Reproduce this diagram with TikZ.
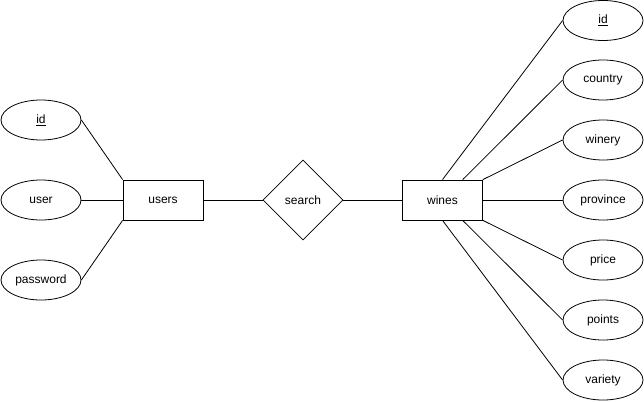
\documentclass[tikz,border=0pt]{standalone}
\usepackage{fontspec}
\setmainfont{Liberation Sans}
\usepackage{tikz}
\usetikzlibrary{shapes.geometric}
\usetikzlibrary{calc}

\tikzset{
  attrib/.style={ellipse,draw,line width=0.8pt,minimum width=80pt,minimum height=40pt,inner sep=0pt},
  entity/.style={rectangle,draw,line width=0.8pt,minimum width=80pt,minimum height=40pt,inner sep=0pt},
  relation/.style={diamond,draw,line width=0.8pt,minimum width=80pt,minimum height=80pt,inner sep=0pt,aspect=1},
  link/.style={line width=0.8pt}
}

\begin{document}
\begin{tikzpicture}[x=1pt,y=-1pt,font=\fontsize{12}{14}\selectfont]
      \useasboundingbox (0,0) rectangle (644,401);
      %entities
      \node[entity] (users) at (163,200) {users};
      \node[relation] (search) at (303,200) {search};
      \node[entity] (wines) at (442.5,200) {wines};
      %users attributes
      \node[attrib] (usersId) at (41,120) {\underline{id}};
      \node[attrib] (usersUser) at (41,200) {user};
      \node[attrib] (usersPassword) at (41,280) {password};
      %wines attributes
      \node[attrib] (winesId) at (603,20.5) {\underline{id}};
      \node[attrib] (winesCountry) at (603,80) {country};
      \node[attrib] (winesWinery) at (603,140) {winery};
      \node[attrib] (winesProvince) at (603,200) {province};
      \node[attrib] (winesPrice) at (603,260) {price};
      \node[attrib] (winesPoints) at (603,320) {points};
      \node[attrib] (winesVariety) at (603,380) {variety};
      %links
      \draw[link] (users.east) -- (search.west);
      \draw[link] (search.east) -- (wines.west);
      \draw[link] (usersId.east) -- (users.north west);
      \draw[link] (usersUser.east) -- (users.west);
      \draw[link] (usersPassword.east) -- (users.south west);
      \draw[link] (wines.north) -- (winesId.west);
      \draw[link] ($(wines.north)!0.5!(wines.north east)$) -- (winesCountry.west);
      \draw[link] (wines.north east) -- (winesWinery.west);
      \draw[link] (wines.east) -- (winesProvince.west);
      \draw[link] (wines.south east) -- (winesPrice.west);
      \draw[link] ($(wines.south)!0.5!(wines.south east)$) -- (winesPoints.west);
      \draw[link] (wines.south) -- (winesVariety.west);
\end{tikzpicture}
\end{document}
